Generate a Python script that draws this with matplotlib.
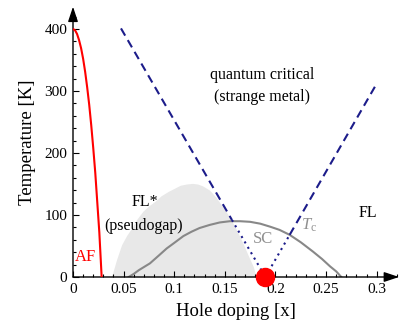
import numpy as np
import matplotlib
matplotlib.use("Agg")
import matplotlib.pyplot as plt
from matplotlib.ticker import MultipleLocator

plt.rcParams['font.family'] = 'Liberation Serif'
plt.rcParams['mathtext.fontset'] = 'custom'
plt.rcParams['mathtext.rm'] = 'Liberation Serif'
plt.rcParams['mathtext.it'] = 'Liberation Serif:italic'

# antiferromagnet boundary
af_x = [0.0, 0.002, 0.004, 0.006, 0.008, 0.010, 0.012, 0.014, 0.016, 0.018, 0.020, 0.022, 0.024, 0.026, 0.0283]
af_T = [400, 398, 392, 382, 369, 352, 331, 306, 278, 245, 208, 168, 120, 72, 0]

# superconducting dome Tc
tc_x = [0.055, 0.06, 0.065, 0.07, 0.076, 0.085, 0.0925, 0.10, 0.109, 0.117, 0.125, 0.135, 0.145,
        0.155, 0.165, 0.175, 0.185, 0.195, 0.204, 0.214, 0.225, 0.237, 0.246, 0.254, 0.26, 0.265]
tc_T = [0, 5, 11, 16, 22, 35, 46, 55, 66, 73, 79, 84, 88,
        90, 90, 89, 86, 81, 76, 68, 56, 41, 29, 17, 9, 0]

# pseudogap (FL*) shaded region
pg_x = [0.038, 0.043, 0.048, 0.053, 0.058, 0.063, 0.069, 0.075, 0.081, 0.087, 0.094, 0.100, 0.106,
        0.112, 0.118, 0.123, 0.128, 0.135, 0.141, 0.148, 0.153, 0.158, 0.163, 0.168, 0.173, 0.178, 0.181]
pg_T = [0, 28, 52, 67, 79, 93, 106, 115, 122, 131, 138, 143, 148,
        150, 151, 150, 147, 140, 129, 113, 101, 87, 71, 54, 35, 17, 0]

# crossover lines out of the quantum critical point
qcp_x = 0.19
left_dash_x = [0.0474, 0.157]
left_dash_T = [401, 92]
left_dot_x = [0.157, qcp_x]
left_dot_T = [92, 0]
right_dot_x = [qcp_x, 0.214]
right_dot_T = [0, 68]
right_dash_x = [0.214, 0.30]
right_dash_T = [68, 312]

fig = plt.figure(figsize=(4.15, 3.33), dpi=100)
ax = fig.add_axes([73/415, 56/333, 326/415, 270.3/333])
ax.set_xlim(0, 0.322)
ax.set_ylim(0, 436)

for s in ax.spines.values():
    s.set_visible(False)

arrow = dict(arrowstyle='-|>,head_length=0.6,head_width=0.2', color='k', lw=1,
             mutation_scale=15, shrinkA=0, shrinkB=0)
ax.annotate("", xy=(1, 0), xytext=(0, 0), xycoords='axes fraction', arrowprops=arrow)
ax.annotate("", xy=(0, 1), xytext=(0, 0), xycoords='axes fraction', arrowprops=arrow)

ax.fill_between(pg_x, pg_T, 0, color='#e8e8e8', lw=0, zorder=1)
ax.plot(tc_x, tc_T, color='#888888', lw=1.5, zorder=2)
ax.plot(af_x, af_T, color='#ff0000', lw=1.5, zorder=3)

navy = '#1c1c8a'
ax.plot(left_dash_x, left_dash_T, color=navy, lw=1.5, dashes=(4, 2.5), zorder=3)
ax.plot(right_dash_x, right_dash_T, color=navy, lw=1.5, dashes=(4, 2.5), zorder=3)
ax.plot(left_dot_x, left_dot_T, color=navy, lw=1.5, dashes=(1, 2), zorder=3)
ax.plot(right_dot_x, right_dot_T, color=navy, lw=1.5, dashes=(1, 2), zorder=3)

ax.plot([qcp_x], [0], 'o', color='#ff0000', ms=13, clip_on=False, zorder=5)

ax.xaxis.set_minor_locator(MultipleLocator(0.01))
ax.yaxis.set_minor_locator(MultipleLocator(20))
ax.set_xticks([0, 0.05, 0.1, 0.15, 0.2, 0.25, 0.3])
ax.set_xticklabels(['0', '0.05', '0.1', '0.15', '0.2', '0.25', '0.3'])
ax.set_yticks([0, 100, 200, 300, 400])
ax.tick_params(which='both', direction='in', top=False, right=False, width=0.8, labelsize=11)
ax.tick_params(which='major', length=4.5, pad=4)
ax.tick_params(which='minor', length=2.5)

ax.set_xlabel('Hole doping [x]', fontsize=13.5, labelpad=5)
ax.set_ylabel('Temperature [K]', fontsize=13.5, labelpad=6)

ax.text(0.1866, 326, 'quantum critical', fontsize=11.5, ha='center', va='center')
ax.text(0.1866, 290, '(strange metal)', fontsize=11.5, ha='center', va='center')
ax.text(0.071, 121, 'FL*', fontsize=11.5, ha='center', va='center')
ax.text(0.0694, 82, '(pseudogap)', fontsize=11.5, ha='center', va='center')
ax.text(0.0128, 33, 'AF', fontsize=12, color='#ff0000', ha='center', va='center')
ax.text(0.188, 61, 'SC', fontsize=12, color='#909090', ha='center', va='center')
ax.text(0.233, 84, r'$T_\mathrm{c}$', fontsize=12, color='#909090', ha='center', va='center')
ax.text(0.291, 103, 'FL', fontsize=11.5, ha='center', va='center')

fig.savefig('out.png', dpi=100)
